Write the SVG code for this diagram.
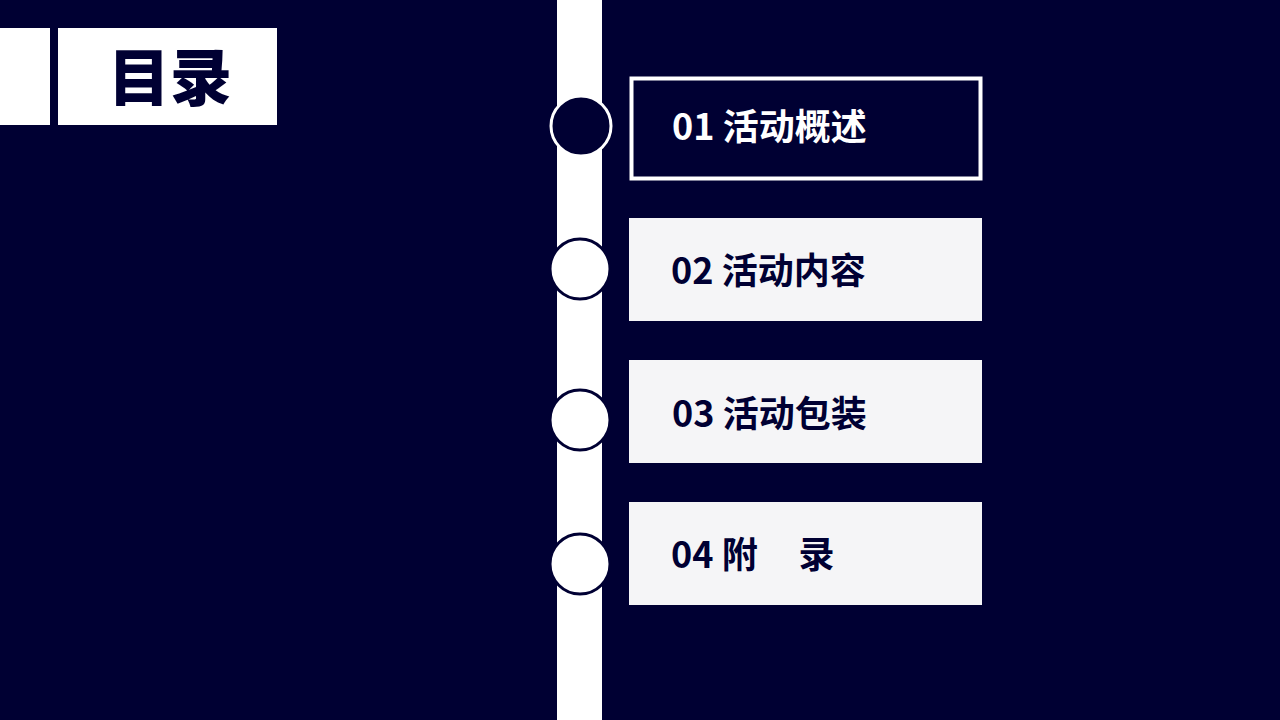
<svg xmlns="http://www.w3.org/2000/svg" width="1280" height="720" viewBox="0 0 1280 720">
<style>
.t{font-family:"Noto Sans CJK SC","Noto Sans",sans-serif;font-weight:700;font-size:36px}
.box{fill:#f5f5f7}
.dot{fill:#ffffff;stroke:#000033;stroke-width:3}
</style>
<rect width="1280" height="720" fill="#000033"/>
<rect x="0" y="28" width="50" height="97" fill="#ffffff"/>
<g id="title"><rect x="58" y="28" width="219" height="97" fill="#ffffff"/>
<text x="170" y="101" text-anchor="middle" font-size="62" class="t" style="font-size:62px;font-weight:900" fill="#000033">目录</text></g>
<g id="connectors"><rect x="557" y="0" width="45" height="720" fill="#ffffff"/></g>
<g id="n1"><circle cx="581" cy="126" r="30" fill="#000033" stroke="#ffffff" stroke-width="3"/>
<rect x="631.5" y="78.5" width="349" height="100" fill="#000033" stroke="#ffffff" stroke-width="4"/>
<text x="672" y="140" class="t" fill="#ffffff">01 活动概述</text></g>
<g id="n2"><circle cx="580" cy="269" r="30" class="dot"/>
<rect x="629" y="218" width="353" height="103" class="box"/>
<text x="671" y="284" class="t" fill="#000033">02 活动内容</text></g>
<g id="n3"><circle cx="580" cy="420" r="30" class="dot"/>
<rect x="629" y="360" width="353" height="103" class="box"/>
<text x="672" y="427" class="t" fill="#000033">03 活动包装</text></g>
<g id="n4"><circle cx="580" cy="564" r="30" class="dot"/>
<rect x="629" y="502" width="353" height="103" class="box"/>
<text x="671" y="568" class="t" fill="#000033" xml:space="preserve">04 附     录</text></g>
</svg>
